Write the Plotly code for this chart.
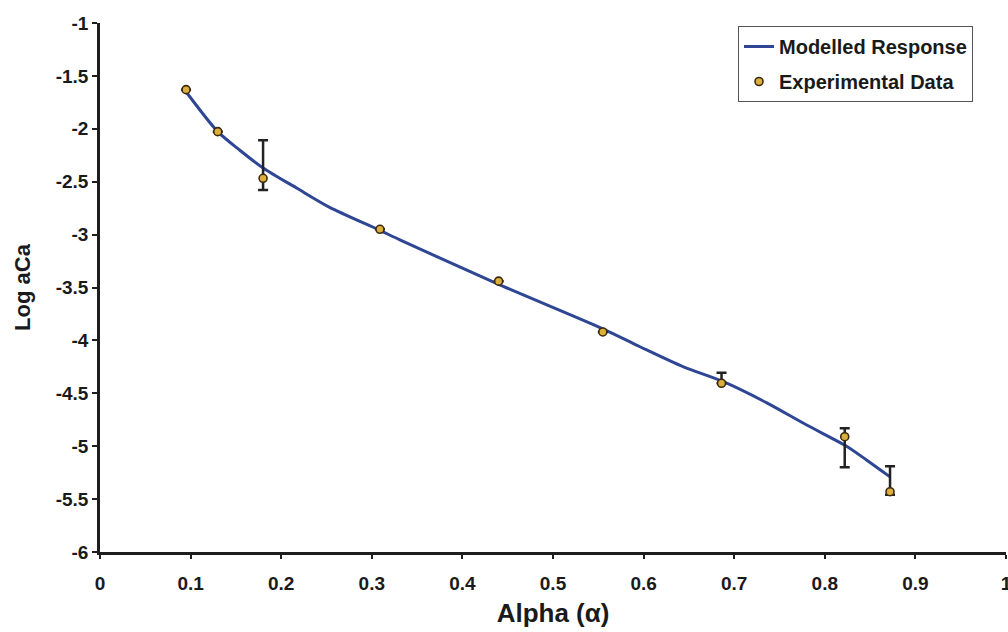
import plotly.graph_objects as go

# Modelled response curve
model_alpha = [0.095, 0.130, 0.154, 0.180, 0.217, 0.253, 0.309, 0.331, 0.440,
               0.555, 0.596, 0.644, 0.688, 0.736, 0.780, 0.824, 0.846, 0.872]
model_logaca = [-1.65, -2.027, -2.20, -2.37, -2.56, -2.74, -2.96, -3.05, -3.47,
                -3.89, -4.06, -4.25, -4.39, -4.59, -4.80, -5.00, -5.13, -5.29]

# Experimental data
exp_alpha = [0.095, 0.130, 0.180, 0.309, 0.440, 0.555, 0.686, 0.822, 0.872]
exp_logaca = [-1.63, -2.027, -2.468, -2.95, -3.44, -3.92, -4.405, -4.91, -5.43]
err_plus = [0, 0, 0.36, 0, 0, 0, 0.10, 0.08, 0.24]
err_minus = [0, 0, 0.11, 0, 0, 0, 0.0, 0.29, 0.03]

x_ticks = [0, 0.1, 0.2, 0.3, 0.4, 0.5, 0.6, 0.7, 0.8, 0.9, 1]
x_ticklabels = ["0", "0.1", "0.2", "0.3", "0.4", "0.5", "0.6", "0.7", "0.8", "0.9", "1"]
y_ticks = [-1, -1.5, -2, -2.5, -3, -3.5, -4, -4.5, -5, -5.5, -6]
y_ticklabels = ["-1", "-1.5", "-2", "-2.5", "-3", "-3.5", "-4", "-4.5", "-5", "-5.5", "-6"]

FONT = "Liberation Sans, Arial, sans-serif"
AX = "#1e1e1e"
TXT = "#1a1a1a"

fig = go.Figure()
fig.add_trace(go.Scatter(
    x=model_alpha, y=model_logaca, mode="lines", name="Modelled Response",
    line=dict(color="#2f4694", width=3, shape="spline", smoothing=0.8),
    legendgroup="a",
))
fig.add_trace(go.Scatter(
    x=exp_alpha, y=exp_logaca, mode="markers", name="Experimental Data",
    marker=dict(size=8, color="#dcae3c", line=dict(color="#3a2a10", width=1.6)),
    error_y=dict(type="data", symmetric=False, array=err_plus, arrayminus=err_minus,
                 color="#222222", thickness=2.5, width=5),
    legendgroup="b",
))

fig.update_layout(
    width=1008, height=632,
    margin=dict(l=100, r=2, t=23, b=80),
    paper_bgcolor="white", plot_bgcolor="white",
    font=dict(family=FONT, color=TXT, size=19, weight="bold"),
    showlegend=True,
    legend=dict(
        x=(738 - 100) / 906, y=1 - (26 - 23) / 529, xanchor="left", yanchor="top",
        bgcolor="white", bordercolor="#555555", borderwidth=1,
        font=dict(family=FONT, size=20, color=TXT, weight="bold"),
        tracegroupgap=6,
    ),
)
fig.update_xaxes(
    range=[0, 1], tickvals=x_ticks, ticktext=x_ticklabels,
    showgrid=False, zeroline=False, automargin=False,
    showline=True, linecolor=AX, linewidth=2.5,
    ticks="outside", ticklen=4, tickwidth=2, tickcolor=AX,
    ticklabeloverflow="allow", ticklabelstandoff=8,
    tickfont=dict(family=FONT, size=19, color=TXT, weight="bold"),
    title=dict(text="Alpha (α)", font=dict(family=FONT, size=26, color=TXT, weight="bold"),
               standoff=12),
)
fig.update_yaxes(
    range=[-6, -1], tickvals=y_ticks, ticktext=y_ticklabels,
    showgrid=False, zeroline=False, automargin=False,
    showline=True, linecolor=AX, linewidth=2.5,
    ticks="outside", ticklen=5, tickwidth=2, tickcolor=AX,
    ticklabeloverflow="allow",
    tickfont=dict(family=FONT, size=19, color=TXT, weight="bold"),
    title=dict(text="Log aCa", font=dict(family=FONT, size=22, color=TXT, weight="bold"),
               standoff=20),
)

fig.write_html(
    "out.html",
    config={"displayModeBar": False},
    post_script="document.body.style.margin='0px';document.body.style.overflow='hidden';",
)
